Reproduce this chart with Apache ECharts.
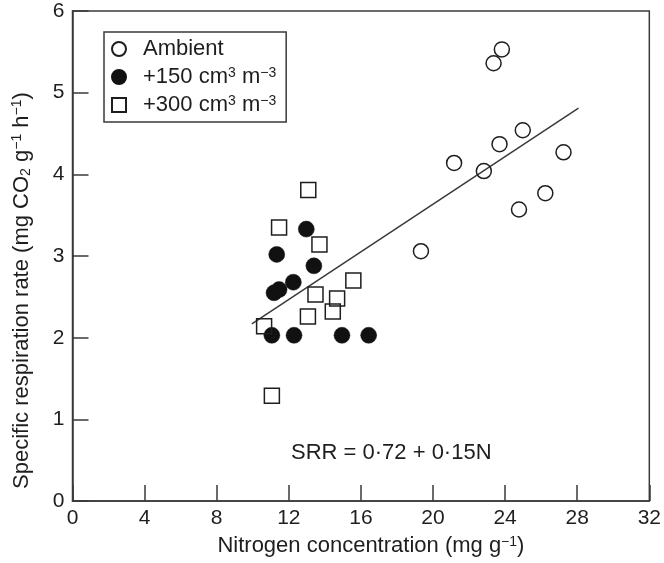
<!DOCTYPE html>
<html><head><meta charset="utf-8">
<script src="https://cdn.jsdelivr.net/npm/echarts@6/dist/echarts.min.js"></script>
<style>html,body{margin:0;padding:0;background:#fff}#c{width:664px;height:563px}</style>
</head><body><div id="c"></div>
<script>
// ---- data ----
const ambientN   = [23.82, 23.36, 24.98, 23.69, 21.17, 22.82, 27.24, 26.23, 24.77, 19.33];
const ambientSRR = [5.53, 5.36, 4.54, 4.37, 4.14, 4.04, 4.27, 3.77, 3.57, 3.06];
const plus150N   = [12.97, 11.33, 13.39, 12.25, 11.46, 11.18, 11.06, 12.29, 14.95, 16.43];
const plus150SRR = [3.33, 3.02, 2.88, 2.68, 2.59, 2.55, 2.03, 2.03, 2.03, 2.03];
const plus300N   = [13.08, 11.46, 13.70, 15.58, 13.48, 14.68, 14.44, 13.06, 10.63, 11.06];
const plus300SRR = [3.81, 3.35, 3.14, 2.70, 2.53, 2.48, 2.32, 2.26, 2.14, 1.29];
const fitN       = [9.95, 28.07];
const fitSRR     = [2.17, 4.81];
const xTicks = [0, 4, 8, 12, 16, 20, 24, 28, 32];
const yTicks = [0, 1, 2, 3, 4, 5, 6];
const seriesNames = ['Ambient', '+150', '+300'];
const equationText = 'SRR = 0·72 + 0·15N';

const zip = (a, b) => a.map((v, i) => [v, b[i]]);
const FONT = '"Liberation Sans", Arial, Helvetica, sans-serif';
const INK = '#1e1e1e';
const LINE = '#3a3a3a';
const rich = {
  sup: {fontSize: 14, fontFamily: FONT, color: INK, verticalAlign: 'top', lineHeight: 14, padding: [1, 0, 0, 0]},
  sub: {fontSize: 14, fontFamily: FONT, color: INK, verticalAlign: 'bottom', lineHeight: 14}
};
const legendLabels = {
  'Ambient': 'Ambient',
  '+150': '+150 cm{sup|3} m{sup|−3}',
  '+300': '+300 cm{sup|3} m{sup|−3}'
};

const chart = echarts.init(document.getElementById('c'), null, {renderer: 'canvas'});
chart.setOption({
  animation: false,
  backgroundColor: '#fff',
  grid: {left: 72.5, right: 12, top: 11, bottom: 61, show: true, borderColor: LINE, borderWidth: 1.5, backgroundColor: 'transparent'},
  legend: {
    data: seriesNames,
    orient: 'vertical', left: 104, top: 32,
    borderColor: LINE, borderWidth: 1.5, borderRadius: 0,
    padding: [5, 10, 5, 7], itemGap: 4, itemWidth: 14, itemHeight: 14,
    formatter: n => legendLabels[n],
    textStyle: {fontFamily: FONT, fontSize: 22, color: INK, lineHeight: 24, padding: [0, 0, 0, 12], rich: rich}
  },
  xAxis: {
    type: 'value', min: xTicks[0], max: xTicks[xTicks.length - 1], interval: xTicks[1] - xTicks[0],
    name: 'Nitrogen concentration (mg g{sup|−1})', nameLocation: 'middle', nameGap: 31,
    nameTextStyle: {fontFamily: FONT, fontSize: 22, color: INK, lineHeight: 24, padding: [0, 0, 0, 20], rich: rich},
    axisLine: {show: true, onZero: false, lineStyle: {color: LINE, width: 1.5}},
    axisTick: {show: true, inside: true, length: 16, lineStyle: {color: LINE, width: 1.5}},
    axisLabel: {fontFamily: FONT, fontSize: 21, color: INK, margin: 7},
    splitLine: {show: false}
  },
  yAxis: {
    type: 'value', min: yTicks[0], max: yTicks[yTicks.length - 1], interval: yTicks[1] - yTicks[0],
    name: 'Specific respiration rate (mg CO{sub|2} g{sup|−1} h{sup|−1})', nameLocation: 'middle', nameGap: 39, nameRotate: 90,
    nameTextStyle: {fontFamily: FONT, fontSize: 22, color: INK, lineHeight: 24, padding: [0, 69, 0, 0], rich: rich},
    axisLine: {show: true, onZero: false, lineStyle: {color: LINE, width: 1.5}},
    axisTick: {show: true, inside: true, length: 16, lineStyle: {color: LINE, width: 1.5}},
    axisLabel: {fontFamily: FONT, fontSize: 21, color: INK, margin: 8},
    splitLine: {show: false}
  },
  graphic: [{
    type: 'text', left: 291, top: 442,
    style: {text: equationText, font: '22px ' + FONT, fill: INK}
  }],
  series: [
    {type: 'line', data: zip(fitN, fitSRR), symbol: 'none', silent: true, z: 1,
     lineStyle: {color: LINE, width: 1.5}},
    {name: seriesNames[0], type: 'scatter', data: zip(ambientN, ambientSRR), symbol: 'circle', symbolSize: 15, z: 3,
     itemStyle: {color: 'rgba(255,255,255,0)', borderColor: INK, borderWidth: 1.5, opacity: 1}},
    {name: seriesNames[1], type: 'scatter', data: zip(plus150N, plus150SRR), symbol: 'circle', symbolSize: 16, z: 3,
     itemStyle: {color: '#111', borderColor: '#111', borderWidth: 0.5, opacity: 1}},
    {name: seriesNames[2], type: 'scatter', data: zip(plus300N, plus300SRR), symbol: 'rect', symbolSize: 15, z: 3,
     itemStyle: {color: 'rgba(255,255,255,0)', borderColor: INK, borderWidth: 1.5, opacity: 1}}
  ]
});
</script></body></html>
